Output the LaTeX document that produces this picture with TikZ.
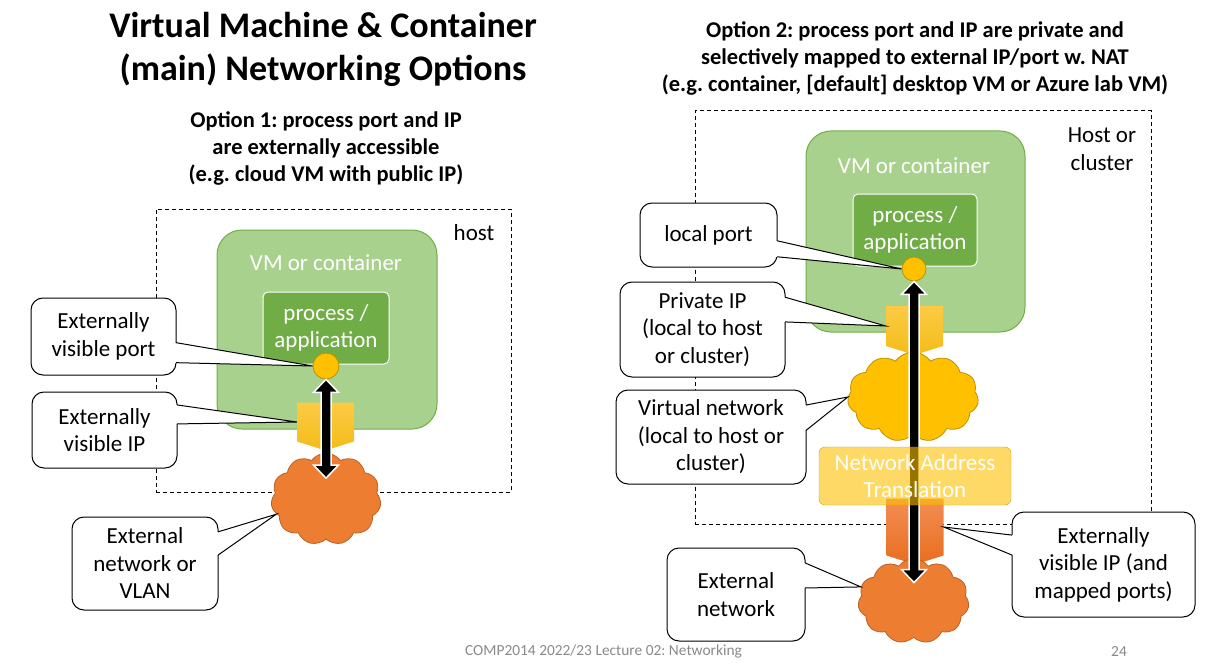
\documentclass[tikz,border=0pt]{standalone}
\usepackage{fontspec}
\setmainfont{Carlito}
\usetikzlibrary{shapes.geometric,shapes.symbols,positioning,calc}
\frenchspacing

\definecolor{vmgreen}{HTML}{A9D18E}
\definecolor{darkgreen}{HTML}{70AD47}
\definecolor{gold}{HTML}{FFC000}
\definecolor{goldtop}{HTML}{FDCA45}
\definecolor{goldbot}{HTML}{F4BC18}
\definecolor{darkgold}{HTML}{BF9000}
\definecolor{netorange}{HTML}{ED7D31}
\definecolor{orangetop}{HTML}{F28E54}
\definecolor{orangebot}{HTML}{E96D1F}
\definecolor{darkorange}{HTML}{B9622A}
\definecolor{footgray}{HTML}{898989}

% pointer of a callout box: box, side, from, to, target
\newcommand{\callptr}[5]{%
  \coordinate (p1) at ($(#1.north #2)!#3!(#1.south #2)$);
  \coordinate (p2) at ($(#1.north #2)!#4!(#1.south #2)$);
  \fill[white] (p1) -- (#5) -- (p2) -- cycle;
  \draw[white, line width=2pt] (p1) -- (p2);
  \draw[line width=1pt] (p1) -- (#5) -- (p2);}

% double headed block arrow, from top point to bottom point
\newcommand{\dblarrow}[2]{%
  \path[fill=black, draw=white, line width=1.5pt] let \p1=(#1), \p2=(#2) in
    (\x1,\y1) -- (\x1+12.5pt,\y1-13pt) -- (\x1+5pt,\y1-13pt)
    -- (\x1+5pt,\y2+13pt) -- (\x1+12.5pt,\y2+13pt) -- (\x1,\y2)
    -- (\x1-12.5pt,\y2+13pt) -- (\x1-5pt,\y2+13pt)
    -- (\x1-5pt,\y1-13pt) -- (\x1-12.5pt,\y1-13pt) -- cycle;}

\begin{document}
\begin{tikzpicture}[x=1pt, y=-1pt]
  \tikzstyle{titletext} = [align=center, font=\bfseries\fontsize{36}{43}\selectfont]
  \tikzstyle{subtext} = [align=center, font=\bfseries\fontsize{22.5}{26.8}\selectfont]
  \tikzstyle{txt} = [align=center, inner sep=0pt, font=\fontsize{23}{27.5}\selectfont]
  \tikzstyle{callbox} = [rectangle, draw, line width=1pt, rounded corners=12pt,
    fill=white, align=center, inner sep=0pt, outer sep=0pt, font=\fontsize{23}{27.5}\selectfont]
  \tikzstyle{host} = [rectangle, draw, dash pattern=on 4pt off 3pt, line width=1pt]
  \tikzstyle{vm} = [rectangle, rounded corners=25pt, fill=vmgreen, draw=darkgreen, line width=1pt]
  \tikzstyle{proc} = [rectangle, rounded corners=5pt, fill=darkgreen, draw=white, line width=1pt,
    text=white, align=center, inner sep=0pt, font=\fontsize{23}{27.5}\selectfont]
  \tikzstyle{port} = [circle, fill=gold, draw=darkgold, line width=0.8pt, inner sep=0pt]
  \tikzstyle{ip} = [signal, signal to=south, signal from=nowhere, signal pointer angle=145,
    minimum width=57pt, inner sep=0pt]
  \tikzstyle{net} = [cloud, cloud puffs=11, cloud puff arc=110, aspect=1.2, line width=0.8pt, inner sep=0pt]
  \tikzstyle{nat} = [rectangle, rounded corners=6pt, fill=gold, fill opacity=0.6, draw=darkgold,
    draw opacity=0.8, text=white, text opacity=1, align=center, inner sep=0pt,
    font=\fontsize{23}{27.5}\selectfont]
  \tikzstyle{foot} = [text=footgray, font=\fontsize{15.4}{18}\selectfont]

  \useasboundingbox (0,0) rectangle (1205,666);

  % Place nodes: option 1
  \node [titletext] (titleL) at (323,49) {Virtual Machine \& Container\\(main) Networking Options};
  \node [subtext] (optL) at (326,148.5) {Option 1: process port and IP\\are externally accessible\\(e.g. cloud VM with public IP)};
  \node [host, minimum width=355pt, minimum height=283pt] (hostL) at (333.5,350.5) {};
  \node [txt] (hostlabL) at (474,233) {host};
  \node [vm, minimum width=220pt, minimum height=199pt] (vmL) at (327,329.5) {};
  \node [txt, text=white] (vmlabL) at (326,263) {VM or container};
  \node [proc, minimum width=126pt, minimum height=72pt] (procL) at (326,328) {process /\\application};
  \node [ip, minimum height=39pt, top color=goldtop, bottom color=goldbot] (ipL) at (325.5,422) {};
  \node [net, fill=netorange, draw=darkorange, minimum width=110pt, minimum height=92pt] (cloudL) at (326,499) {};
  \node [port, minimum size=26pt] (portL) at (326,366) {};
  \dblarrow{portL.south}{$(cloudL.center)!0.45!(cloudL.north)$}

  \node [callbox, minimum width=145pt, minimum height=77pt] (portcallL) at (103.5,336.5) {Externally\\visible port};
  \node [callbox, minimum width=145pt, minimum height=76pt] (ipcallL) at (104.5,430) {Externally\\visible IP};
  \node [callbox, minimum width=146pt, minimum height=93pt] (netcallL) at (145,563.5) {External\\network or\\VLAN};

  % Place nodes: option 2
  \node [subtext] (titleR) at (915,58.5) {Option 2: process port and IP are private and\\selectively mapped to external IP/port w. NAT\\(e.g. container, [default] desktop VM or Azure lab VM)};
  \node [host, minimum width=456pt, minimum height=413pt] (hostR) at (923,317.5) {};
  \node [txt] (hostlabR) at (1102,149) {Host or\\cluster};
  \node [vm, minimum width=219pt, minimum height=201pt] (vmR) at (915.5,231.5) {};
  \node [txt, text=white] (vmlabR) at (914,166) {VM or container};
  \node [proc, minimum width=124pt, minimum height=72pt] (procR) at (915,230) {process /\\application};
  \node [ip, minimum height=40pt, top color=goldtop, bottom color=goldbot] (ipR) at (914.5,326) {};
  \node [net, fill=gold, draw=darkgold, minimum width=131pt, minimum height=90pt] (cloudY) at (913,397) {};
  \node [ip, minimum height=57pt, top color=orangetop, bottom color=orangebot] (ipO) at (915,527) {};
  \node [net, fill=netorange, draw=darkorange, minimum width=111pt, minimum height=85pt] (cloudO) at (913.5,601) {};
  \node [port, minimum size=24pt] (portR) at (914,269) {};
  \dblarrow{portR.south}{$(cloudO.center)!0.43!(cloudO.north)$}
  \node [nat, minimum width=192pt, minimum height=58pt] (natR) at (915,476) {Network Address\\Translation};

  \node [callbox, minimum width=137pt, minimum height=64pt] (localcall) at (708.5,235) {local port};
  \node [callbox, minimum width=165pt, minimum height=95pt] (privcall) at (702.5,329.5) {Private IP\\(local to host\\or cluster)};
  \node [callbox, minimum width=190pt, minimum height=94pt] (vnetcall) at (711,437) {Virtual network\\(local to host or\\cluster)};
  \node [callbox, minimum width=138pt, minimum height=93pt] (extcall) at (736,594.5) {External\\network};
  \node [callbox, minimum width=183pt, minimum height=105pt] (extipcall) at (1103.5,564.5) {Externally\\visible IP (and\\mapped ports)};

  \node [foot] (footer) at (603.5,651) {COMP2014 2022/23 Lecture 02: Networking};
  \node [foot] (pagenum) at (1119,651) {24};

  % Draw edges
  \callptr{portcallL}{east}{0.58}{0.84}{portL.west}
  \callptr{ipcallL}{east}{0.17}{0.42}{ipL.west}
  \callptr{netcallL}{east}{0.16}{0.41}{cloudL.197}
  \callptr{localcall}{east}{0.59}{0.84}{portR.west}
  \callptr{privcall}{east}{0.16}{0.42}{ipR.west}
  \callptr{vnetcall}{east}{0.16}{0.43}{cloudY.west}
  \callptr{extcall}{east}{0.16}{0.43}{cloudO.165}
  \callptr{extipcall}{west}{0.22}{0.41}{ipO.east}
\end{tikzpicture}
\end{document}
